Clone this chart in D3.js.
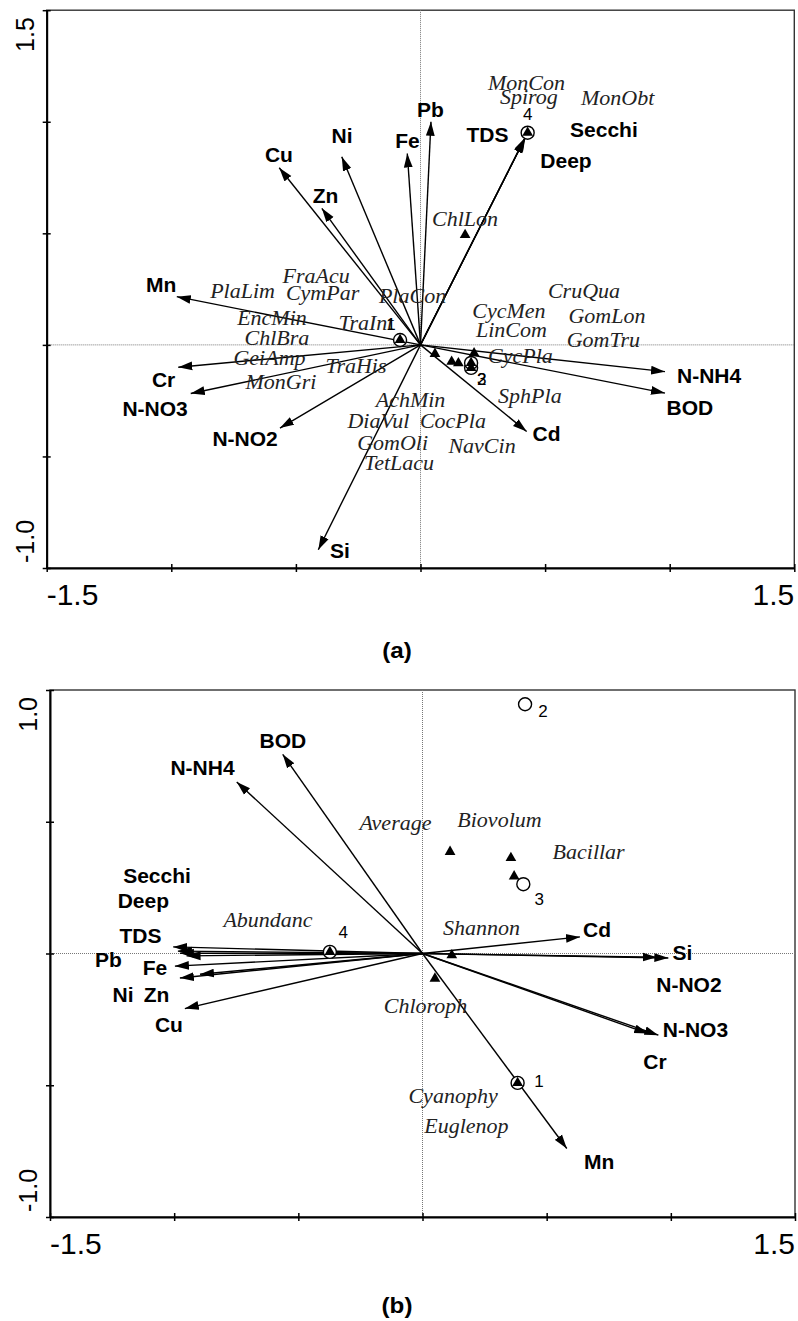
<!DOCTYPE html>
<html>
<head>
<meta charset="utf-8">
<script src="https://cdn.jsdelivr.net/npm/d3@7"></script>
<style>
  html, body { margin: 0; padding: 0; background: #fff; overflow: hidden; }
  svg { display: block; }
  .env { font-family: "Liberation Sans", Arial, sans-serif; font-weight: bold; font-size: 21px; fill: #000; }
  .sp { font-family: "Liberation Serif", "Times New Roman", serif; font-style: italic; font-size: 22px; fill: #222; }
  .site { font-family: "Liberation Sans", Arial, sans-serif; font-size: 17px; fill: #000; }
  .tick-lab { font-family: "Liberation Sans", Arial, sans-serif; fill: #000; }
</style>
</head>
<body>
<div id="chart"></div>
<script>
var W = 798, H = 1321;

// ---- panel (a) ----
var envA_names = ["Cu", "Ni", "Fe", "Pb", "Zn", "TDS", "Secchi", "Deep", "Mn", "Cr", "N-NO3", "N-NO2", "Si", "N-NH4", "BOD", "Cd"];
var envA_x = [-0.567, -0.316, -0.053, 0.042, -0.396, 0.419, 0.421, 0.417, -0.978, -0.972, -0.922, -0.564, -0.410, 0.981, 0.981, 0.426];
var envA_y = [0.794, 0.843, 0.858, 1.000, 0.612, 0.926, 0.930, 0.922, 0.216, -0.100, -0.218, -0.373, -0.918, -0.120, -0.216, -0.388];
var envA_lx = [-0.568, -0.315, -0.052, 0.040, -0.381, 0.269, 0.736, 0.584, -1.041, -1.031, -1.065, -0.704, -0.323, 1.158, 1.081, 0.506];
var envA_ly = [0.820, 0.905, 0.883, 1.022, 0.636, 0.909, 0.932, 0.793, 0.237, -0.188, -0.317, -0.453, -0.954, -0.170, -0.314, -0.430];

var spA_names = ["MonCon", "Spirog", "MonObt", "ChlLon", "FraAcu", "PlaLim", "CymPar", "PlaCon", "CruQua", "CycMen", "GomLon", "LinCom", "GomTru", "EncMin", "TraInt", "ChlBra", "GeiAmp", "TraHis", "MonGri", "CycPla", "AchMin", "SphPla", "DiaVul", "CocPla", "GomOli", "NavCin", "TetLacu"];
var spA_x = [0.425, 0.435, 0.791, 0.179, -0.419, -0.714, -0.393, -0.032, 0.656, 0.355, 0.748, 0.365, 0.734, -0.596, -0.219, -0.576, -0.606, -0.259, -0.560, 0.401, -0.040, 0.439, -0.169, 0.130, -0.112, 0.247, -0.086];
var spA_y = [1.142, 1.080, 1.075, 0.533, 0.278, 0.212, 0.202, 0.188, 0.209, 0.121, 0.099, 0.036, -0.009, 0.090, 0.067, 0.000, -0.090, -0.125, -0.197, -0.081, -0.278, -0.260, -0.372, -0.372, -0.470, -0.484, -0.560];

var triA_x = [0.179, 0.058, 0.125, 0.152, 0.215, 0.430, -0.082, 0.203, 0.203];
var triA_y = [0.493, -0.040, -0.075, -0.082, -0.037, 0.951, 0.022, -0.103, -0.081];

var siteA_names = ["1", "2", "3", "4"];
var siteA_x = [-0.082, 0.203, 0.203, 0.430];
var siteA_y = [0.022, -0.103, -0.081, 0.951];
var siteA_lx = [-0.118, 0.246, 0.246, 0.430];
var siteA_ly = [0.067, -0.179, -0.179, 1.008];

// ---- panel (b) ----
var envB_names = ["BOD", "N-NH4", "Secchi", "Deep", "TDS", "Pb", "Fe", "Ni", "Zn", "Cu", "Cd", "Si", "N-NO2", "N-NO3", "Cr", "Mn"];
var envB_x = [-0.563, -0.748, -0.985, -0.977, -1.004, -0.950, -0.997, -0.977, -0.896, -0.957, 0.634, 0.990, 0.943, 0.950, 0.909, 0.581];
var envB_y = [0.756, 0.651, 0.009, 0.001, 0.025, -0.009, -0.048, -0.093, -0.079, -0.209, 0.063, -0.017, -0.014, -0.310, -0.304, -0.740];
var envB_lx = [-0.562, -0.886, -1.069, -1.124, -1.136, -1.265, -1.077, -1.206, -1.071, -1.021, 0.703, 1.047, 1.073, 1.099, 0.936, 0.711];
var envB_ly = [0.780, 0.677, 0.266, 0.173, 0.040, -0.051, -0.082, -0.184, -0.184, -0.299, 0.061, -0.025, -0.146, -0.317, -0.440, -0.816];

var spB_names = ["Average", "Biovolum", "Bacillar", "Abundanc", "Shannon", "Chloroph", "Cyanophy", "Euglenop"];
var spB_x = [-0.109, 0.310, 0.669, -0.622, 0.238, 0.012, 0.123, 0.177];
var spB_y = [0.468, 0.480, 0.357, 0.101, 0.069, -0.227, -0.568, -0.681];

var triB_x = [0.111, 0.356, 0.369, 0.118, 0.050, 0.383, -0.373];
var triB_y = [0.386, 0.363, 0.293, -0.006, -0.095, -0.491, 0.006];

var siteB_names = ["1", "2", "3", "4"];
var siteB_x = [0.383, 0.413, 0.406, -0.373];
var siteB_y = [-0.491, 0.946, 0.263, 0.006];
var siteB_lx = [0.469, 0.485, 0.470, -0.319];
var siteB_ly = [-0.506, 0.898, 0.183, 0.058];

var xTicks = [-1.5, -1, -0.5, 0, 0.5, 1, 1.5];
var xTickLabels = ["-1.5", "1.5"];

var svg = d3.select("#chart").append("svg")
    .attr("width", W)
    .attr("height", H);

svg.append("defs").append("marker")
    .attr("id", "ah")
    .attr("viewBox", "0 0 14 10")
    .attr("refX", 14)
    .attr("refY", 5)
    .attr("markerWidth", 14)
    .attr("markerHeight", 10)
    .attr("markerUnits", "userSpaceOnUse")
    .attr("orient", "auto")
    .append("path")
    .attr("d", "M0,0.6 L14,5 L0,9.4 Z")
    .attr("fill", "#000");

function zip(names, xs, ys, lx, ly) {
    return names.map((n, i) => ({name: n, x: xs[i], y: ys[i], lx: lx ? lx[i] : null, ly: ly ? ly[i] : null}));
}

function drawPanel(p) {
    var x = d3.scaleLinear().domain([-1.5, 1.5]).range([p.left, p.right]);
    var y = d3.scaleLinear().domain(p.yDomain).range([p.bottom, p.top]);
    var g = svg.append("g");

    // frame
    g.append("rect")
        .attr("x", p.left).attr("y", p.top)
        .attr("width", p.right - p.left).attr("height", p.bottom - p.top)
        .attr("fill", "none").attr("stroke", "#333").attr("stroke-width", 1.4);

    // zero lines
    g.append("line")
        .attr("x1", x(0)).attr("x2", x(0)).attr("y1", p.top).attr("y2", p.bottom)
        .attr("stroke", "#777").attr("stroke-width", 1).attr("stroke-dasharray", "1,1");
    g.append("line")
        .attr("x1", p.left).attr("x2", p.right).attr("y1", y(0)).attr("y2", y(0))
        .attr("stroke", "#777").attr("stroke-width", 1).attr("stroke-dasharray", "1,1");

    // axes
    var xAxis = d3.axisBottom(x).tickValues(xTicks).tickSize(4).tickSizeOuter(0).tickFormat("");
    var xg = g.append("g").attr("transform", "translate(0," + p.bottom + ")").call(xAxis);
    xg.selectAll(".tick line").attr("y1", -4).attr("stroke-width", 1.5);
    xg.select(".domain").attr("stroke-width", 2);

    var yAxis = d3.axisLeft(y).tickValues(p.yTicks).tickSize(4).tickSizeOuter(0).tickFormat("");
    var yg = g.append("g").attr("transform", "translate(" + p.left + ",0)").call(yAxis);
    yg.selectAll(".tick line").attr("x1", 4).attr("stroke-width", 1.5);
    yg.select(".domain").attr("stroke-width", 2);

    // tick labels
    g.append("text").attr("class", "tick-lab")
        .attr("x", x(-1.5)).attr("y", p.bottom + 37)
        .style("font-size", "30px").text(xTickLabels[0]);
    g.append("text").attr("class", "tick-lab")
        .attr("x", x(1.5)).attr("y", p.bottom + 37)
        .attr("text-anchor", "end")
        .style("font-size", "30px").text(xTickLabels[1]);
    g.append("text").attr("class", "tick-lab")
        .attr("transform", "translate(" + (p.left - 13) + "," + (p.top + 7) + ") rotate(-90)")
        .attr("text-anchor", "end")
        .style("font-size", "25px").text(p.yTickLabels[1]);
    g.append("text").attr("class", "tick-lab")
        .attr("transform", "translate(" + (p.left - 13) + "," + (p.bottom - 5) + ") rotate(-90)")
        .attr("text-anchor", "start")
        .style("font-size", "25px").text(p.yTickLabels[0]);

    // env arrows
    var env = zip(p.envNames, p.envX, p.envY, p.envLX, p.envLY);
    g.selectAll(".arrow").data(env).enter().append("line")
        .attr("class", "arrow")
        .attr("x1", x(0)).attr("y1", y(0))
        .attr("x2", d => x(d.x)).attr("y2", d => y(d.y))
        .attr("stroke", "#000").attr("stroke-width", 1.4)
        .attr("marker-end", "url(#ah)");
    g.selectAll(".env").data(env).enter().append("text")
        .attr("class", "env")
        .attr("x", d => x(d.lx)).attr("y", d => y(d.ly))
        .attr("text-anchor", "middle")
        .text(d => d.name);

    // species labels
    var sp = zip(p.spNames, p.spX, p.spY);
    g.selectAll(".sp").data(sp).enter().append("text")
        .attr("class", "sp")
        .attr("x", d => x(d.x)).attr("y", d => y(d.y))
        .attr("text-anchor", "middle")
        .text(d => d.name);

    // sites
    var sites = zip(p.siteNames, p.siteX, p.siteY, p.siteLX, p.siteLY);
    g.selectAll(".sitec").data(sites).enter().append("circle")
        .attr("class", "sitec")
        .attr("cx", d => x(d.x)).attr("cy", d => y(d.y))
        .attr("r", 6.5)
        .attr("fill", "#fff").attr("stroke", "#000").attr("stroke-width", 1.4);

    // species points
    var tri = p.triX.map((v, i) => ({x: v, y: p.triY[i]}));
    var sym = d3.symbol().type(d3.symbolTriangle).size(50);
    g.selectAll(".tri").data(tri).enter().append("path")
        .attr("class", "tri")
        .attr("d", sym)
        .attr("transform", d => "translate(" + x(d.x) + "," + y(d.y) + ")")
        .attr("fill", "#000");

    g.selectAll(".site").data(sites).enter().append("text")
        .attr("class", "site")
        .attr("x", d => x(d.lx)).attr("y", d => y(d.ly))
        .attr("text-anchor", "middle")
        .text(d => d.name);

    // panel letter
    svg.append("text")
        .attr("transform", "translate(397," + p.letterY + ") scale(1.1,1)")
        .attr("text-anchor", "middle")
        .style("font-family", "Liberation Sans, Arial, sans-serif")
        .style("font-weight", "bold").style("font-size", "22px")
        .text(p.letter);
}

drawPanel({
    left: 46.7, right: 794.3, top: 10.2, bottom: 568,
    yDomain: [-1, 1.5], yTicks: [-1, -0.5, 0, 0.5, 1, 1.5], yTickLabels: ["-1.0", "1.5"],
    envNames: envA_names, envX: envA_x, envY: envA_y, envLX: envA_lx, envLY: envA_ly,
    spNames: spA_names, spX: spA_x, spY: spA_y,
    triX: triA_x, triY: triA_y,
    siteNames: siteA_names, siteX: siteA_x, siteY: siteA_y, siteLX: siteA_lx, siteLY: siteA_ly,
    letter: "(a)", letterY: 658
});

drawPanel({
    left: 50, right: 795, top: 690, bottom: 1217,
    yDomain: [-1, 1], yTicks: [-1, -0.5, 0, 0.5, 1], yTickLabels: ["-1.0", "1.0"],
    envNames: envB_names, envX: envB_x, envY: envB_y, envLX: envB_lx, envLY: envB_ly,
    spNames: spB_names, spX: spB_x, spY: spB_y,
    triX: triB_x, triY: triB_y,
    siteNames: siteB_names, siteX: siteB_x, siteY: siteB_y, siteLX: siteB_lx, siteLY: siteB_ly,
    letter: "(b)", letterY: 1313
});
</script>
</body>
</html>
